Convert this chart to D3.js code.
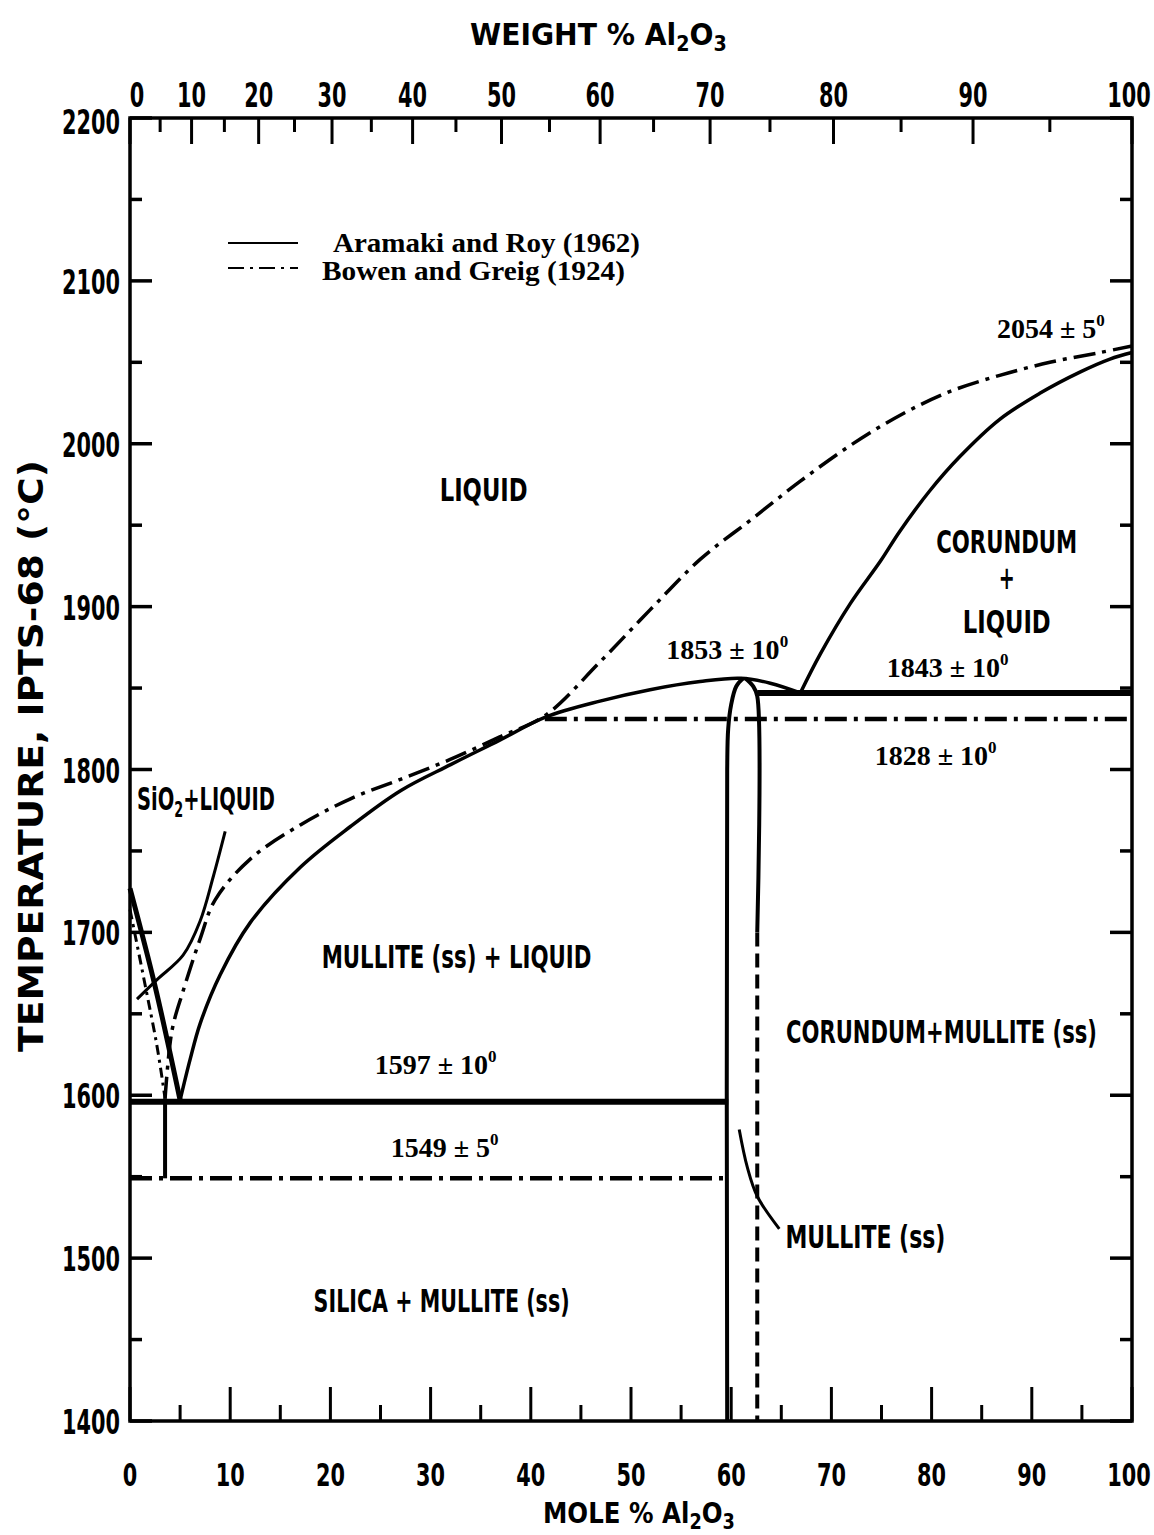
<!DOCTYPE html>
<head>
    <meta charset="utf-8"/>
    <script src="https://d3js.org/d3.v7.min.js"></script>
    <style>
        body { margin: 0; background: #fff; }
        .lab { font-family: "DejaVu Sans Condensed", "DejaVu Sans", sans-serif; font-stretch: condensed; font-weight: bold; fill: #000; }
        .num { font-family: "Liberation Serif", "Times New Roman", serif; font-weight: bold; fill: #000; }
    </style>
</head>
<body>
<svg id="chart" width="1154" height="1535"></svg>
<script>
// ---- data (mole % Al2O3, temperature in C) ----
let moleTicks = [0, 10, 20, 30, 40, 50, 60, 70, 80, 90, 100];
let weightTicks = [0, 10, 20, 30, 40, 50, 60, 70, 80, 90, 100];
let tempTicks = [1400, 1500, 1600, 1700, 1800, 1900, 2000, 2100, 2200];

// Aramaki and Roy (1962) - solid lines
let arSilicaLiquidus = [[0, 1727], [2.5, 1667], [5.0, 1597]];
let arMulliteLiquidus = [[5.0, 1597], [6.0, 1622], [7.0, 1644], [9.0, 1674], [12, 1706], [17, 1740],
    [22, 1765], [27, 1787], [32, 1803], [36.9, 1818], [41.4, 1832], [46.9, 1842], [51.9, 1849],
    [56.9, 1854], [60.9, 1856], [63.9, 1853], [66.9, 1847]];
let arCorundumLiquidus = [[66.9, 1847], [68.9, 1871], [71.9, 1902], [74.9, 1928], [76.8, 1946],
    [79.8, 1971], [82.8, 1992], [86.8, 2015], [90.8, 2031], [94.8, 2044], [97.8, 2052], [100, 2056]];
let arMulliteLeft = [[61.2, 1856], [60.5, 1851], [60.0, 1840], [59.7, 1825], [59.6, 1800], [59.6, 1400]];
let arMulliteRight = [[61.4, 1856], [62.2, 1851], [62.6, 1845], [62.6, 1700]];
let arMulliteRightDashed = [[62.6, 1700], [62.6, 1400]];
let arEutectic = [[0, 1596], [59.7, 1596]];
let arPeritectic = [[62.6, 1847], [100, 1847]];
let silicaLeader = [[0.7, 1659], [2.7, 1671], [5.3, 1686], [7.0, 1707], [8.3, 1734], [9.5, 1762]];
let mulliteLeader = [[60.8, 1579], [61.6, 1556], [62.6, 1538], [64.8, 1518]];

// Bowen and Greig (1924) - dash-dot lines
let bgSilicaLiquidus = [[0, 1714], [1.5, 1668], [2.7, 1630], [3.5, 1598]];
let bgVertical = [[3.5, 1598], [3.5, 1549]];
let bgLiquidus = [[3.5, 1598], [4.2, 1640], [5.3, 1664], [7.0, 1696], [8.5, 1720], [12, 1745],
    [17, 1766], [22, 1782], [27, 1794], [31.9, 1806], [36.9, 1820], [41.4, 1833], [46.9, 1866],
    [51.9, 1898], [56.9, 1929], [61.9, 1953], [66.9, 1977], [71.9, 1999], [77.0, 2018],
    [81.8, 2032], [86.8, 2042], [91.8, 2050], [96.8, 2056], [100, 2060]];
let bgEutectic = [[0, 1549], [59.7, 1549]];
let bgPeritectic = [[41.4, 1831], [100, 1831]];

let regionLabels = [
    {t: "LIQUID", m: 35.3, T: 1965},
    {t: "CORUNDUM", m: 87.5, T: 1933},
    {t: "+", m: 87.5, T: 1911},
    {t: "LIQUID", m: 87.5, T: 1884},
    {t: "MULLITE (ss) + LIQUID", m: 32.6, T: 1678},
    {t: "CORUNDUM+MULLITE (ss)", m: 81.0, T: 1632},
    {t: "SILICA + MULLITE (ss)", m: 31.1, T: 1467},
    {t: "MULLITE (ss)", m: 73.4, T: 1506}
];
let valueLabels = [
    {v: "2054 \u00b1 5", m: 91.9, T: 2065},
    {v: "1853 \u00b1 10", m: 59.6, T: 1868},
    {v: "1843 \u00b1 10", m: 81.6, T: 1857},
    {v: "1828 \u00b1 10", m: 80.4, T: 1803},
    {v: "1597 \u00b1 10", m: 30.5, T: 1613},
    {v: "1549 \u00b1 5", m: 31.4, T: 1562}
];

let svg = d3.select("svg#chart");
let x = d3.scaleLinear().domain([0, 100]).range([130, 1132]);
let y = d3.scaleLinear().domain([1400, 2200]).range([1421, 118]);

// weight % -> mole % (Al2O3 = 101.96, SiO2 = 60.08)
function wtToMole(w) {
    let a = w / 101.96, s = (100 - w) / 60.08;
    return 100 * a / (a + s);
}

// narrow lettering: squeeze each label to the width it has in the original
let labelWidth = {
    "LIQUID": 88, "CORUNDUM": 141, "+": 16,
    "MULLITE (ss) + LIQUID": 270, "CORUNDUM+MULLITE (ss)": 311,
    "SILICA + MULLITE (ss)": 256, "MULLITE (ss)": 160
};
function digitWidth(s) { return String(s).length * 14.5; }

// a text squeezed horizontally to a given width; anchor: 0 left, 0.5 middle, 1 right
function narrow(px, py, width, anchor, size, build) {
    let g = svg.append("g");
    let t = g.append("text").attr("class", "lab").style("font-size", size + "px");
    build(t);
    let w = t.node().getComputedTextLength();
    let s = width / w;
    g.attr("transform", "translate(" + (px - anchor * width) + "," + py + ") scale(" + s + ",1)");
    return g;
}

let line = d3.line().x(d => x(d[0])).y(d => y(d[1])).curve(d3.curveCatmullRom);
let straight = d3.line().x(d => x(d[0])).y(d => y(d[1]));
let dashDot = "22,7,4,7";

function path(data, width, dash, gen) {
    svg.append("path")
        .attr("d", (gen || line)(data))
        .style("fill", "none")
        .style("stroke", "#000")
        .style("stroke-width", width)
        .style("stroke-dasharray", dash || null);
}

// frame
svg.append("rect")
    .attr("x", x(0)).attr("y", y(2200))
    .attr("width", x(100) - x(0)).attr("height", y(1400) - y(2200))
    .style("fill", "none").style("stroke", "#000").style("stroke-width", 3.5);

// bottom ticks (every 5 mole %)
for (let i = 0; i <= 100; i += 5) {
    let len = (i % 10 == 0) ? 34 : 16;
    svg.append("line")
        .attr("x1", x(i)).attr("x2", x(i))
        .attr("y1", y(1400)).attr("y2", y(1400) - len)
        .style("stroke", "#000").style("stroke-width", 3);
}
moleTicks.forEach(function(d) {
    let px = x(d) - (d == 100 ? 3 : 0);
    narrow(px, 1486, digitWidth(d), 0.5, 32, t => t.text(d));
});

// top ticks (every 5 weight %)
for (let w = 0; w <= 100; w += 5) {
    let len = (w % 10 == 0) ? 26 : 14;
    let px = x(wtToMole(w));
    svg.append("line")
        .attr("x1", px).attr("x2", px)
        .attr("y1", y(2200)).attr("y2", y(2200) + len)
        .style("stroke", "#000").style("stroke-width", 3);
}
weightTicks.forEach(function(d) {
    let px = x(wtToMole(d)) + (d == 0 ? 7 : 0) - (d == 100 ? 3 : 0);
    narrow(px, 107, digitWidth(d), 0.5, 33, t => t.text(d));
});

// left and right ticks (every 50 C)
for (let t = 1400; t <= 2200; t += 50) {
    let len = (t % 100 == 0) ? 22 : 12;
    svg.append("line")
        .attr("x1", x(0)).attr("x2", x(0) + len)
        .attr("y1", y(t)).attr("y2", y(t))
        .style("stroke", "#000").style("stroke-width", 3.5);
    svg.append("line")
        .attr("x1", x(100)).attr("x2", x(100) - len)
        .attr("y1", y(t)).attr("y2", y(t))
        .style("stroke", "#000").style("stroke-width", 3.5);
}
tempTicks.forEach(function(d) {
    narrow(120, y(d) + 13 + (d == 2200 ? 3 : 0), digitWidth(d), 1, 33, t => t.text(d));
});

// axis titles
function formula(label) {
    return function(el) {
        el.append("tspan").text(label + " Al");
        el.append("tspan").attr("dy", 6).style("font-size", "21px").text("2");
        el.append("tspan").attr("dy", -6).text("O");
        el.append("tspan").attr("dy", 6).style("font-size", "21px").text("3");
    };
}
narrow(470, 45, 257, 0, 31, formula("WEIGHT  %"));
narrow(543, 1523, 192, 0, 29, formula("MOLE  %"));

let yt = svg.append("g").attr("transform", "translate(43,1052) rotate(-90)");
let ytt = yt.append("text").attr("class", "lab").style("font-size", "34px")
    .text("TEMPERATURE,  IPTS-68  (\u00b0C)");
ytt.attr("transform", "scale(" + (592 / ytt.node().getComputedTextLength()) + ",1)");

// Bowen and Greig (dash-dot)
path(bgSilicaLiquidus, 3, "10,5,3,5");
path(bgVertical, 4, null, straight);
path(bgLiquidus, 3.5, dashDot);
path(bgEutectic, 4.5, dashDot, straight);
path(bgPeritectic, 4.5, dashDot, straight);

// Aramaki and Roy (solid)
path(arSilicaLiquidus, 5);
path(arMulliteLiquidus, 3.5);
path(arCorundumLiquidus, 3.5);
path(arMulliteLeft, 4);
path(arMulliteRight, 4);
path(arMulliteRightDashed, 4, "14,7", straight);
path(arEutectic, 6, null, straight);
path(arPeritectic, 6, null, straight);
path(silicaLeader, 3);
path(mulliteLeader, 3);

// region labels
regionLabels.forEach(function(d) {
    narrow(x(d.m), y(d.T), labelWidth[d.t], 0.5, 32, t => t.text(d.t));
});
narrow(137, y(1775), 138, 0, 32, function(t) {
    t.append("tspan").text("SiO");
    t.append("tspan").attr("dy", 7).style("font-size", "21px").text("2");
    t.append("tspan").attr("dy", -7).text("+LIQUID");
});

// value labels with superscript degree
valueLabels.forEach(function(d) {
    let t = svg.append("text").attr("class", "num")
        .attr("x", x(d.m)).attr("y", y(d.T))
        .attr("text-anchor", "middle")
        .style("font-size", "28px");
    t.append("tspan").text(d.v);
    t.append("tspan").attr("dy", -12).style("font-size", "17px").text("0");
});

// legend
svg.append("line").attr("x1", 228).attr("x2", 298).attr("y1", 243).attr("y2", 243)
    .style("stroke", "#000").style("stroke-width", 2);
svg.append("line").attr("x1", 228).attr("x2", 298).attr("y1", 268).attr("y2", 268)
    .style("stroke", "#000").style("stroke-width", 2).style("stroke-dasharray", "16,6,3,6");
svg.append("text").attr("class", "num").attr("x", 333).attr("y", 252)
    .attr("textLength", 307).attr("lengthAdjust", "spacingAndGlyphs")
    .style("font-size", "28px").text("Aramaki and Roy (1962)");
svg.append("text").attr("class", "num").attr("x", 322).attr("y", 280)
    .attr("textLength", 303).attr("lengthAdjust", "spacingAndGlyphs")
    .style("font-size", "28px").text("Bowen and Greig (1924)");
</script>
</body>
